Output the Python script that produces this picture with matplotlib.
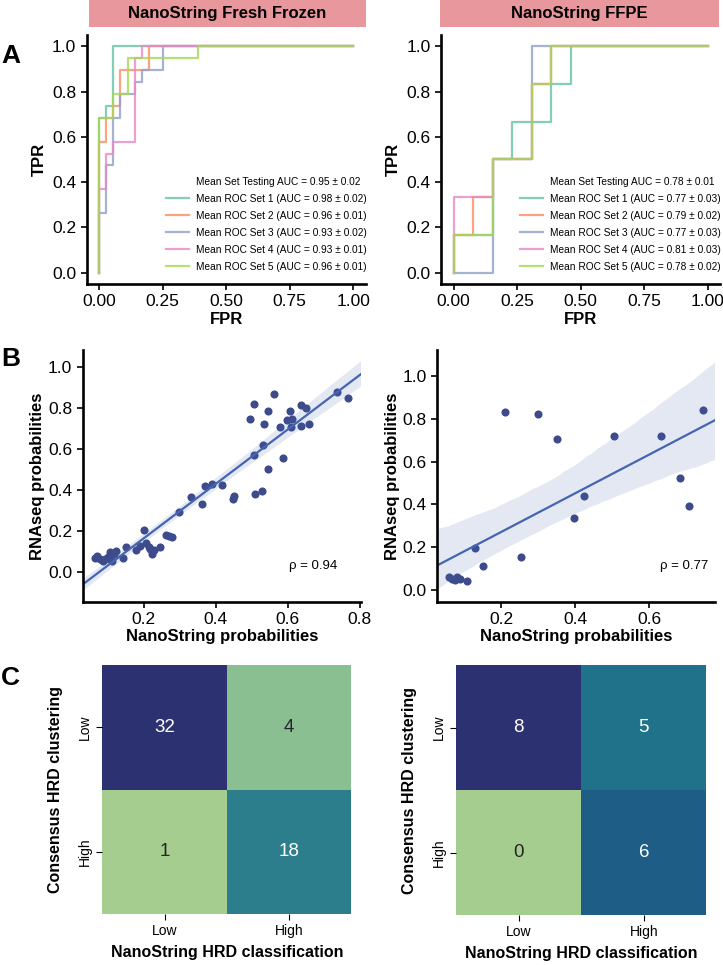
import matplotlib

matplotlib.use("Agg")

import matplotlib.pyplot as plt
import numpy as np
import seaborn as sns
from matplotlib.lines import Line2D

# ---------------------------------------------------------------- data

# ROC vertices, in counts of negatives / positives
FF_NEG, FF_POS = 36, 19
FF_FPR = [
    [0, 0, 1, 1, 2, 2, 36],
    [0, 0, 1, 1, 2, 2, 3, 3, 7, 7, 36],
    [0, 0, 1, 1, 2, 2, 3, 3, 5, 5, 6, 6, 9, 9, 36],
    [0, 0, 1, 1, 2, 2, 5, 5, 6, 6, 36],
    [0, 0, 2, 2, 4, 4, 14, 14, 36],
]
FF_TPR = [
    [0, 13, 13, 14, 14, 19, 19],
    [0, 11, 11, 13, 13, 14, 14, 17, 17, 19, 19],
    [0, 5, 5, 9, 9, 13, 13, 15, 15, 16, 16, 17, 17, 19, 19],
    [0, 7, 7, 10, 10, 11, 11, 18, 18, 19, 19],
    [0, 13, 13, 15, 15, 18, 18, 19, 19],
]
FF_AUC = ["0.98 ± 0.02", "0.96 ± 0.01", "0.93 ± 0.02", "0.93 ± 0.01", "0.96 ± 0.01"]
FF_MEAN_AUC = "0.95 ± 0.02"

FFPE_NEG, FFPE_POS = 13, 6
FFPE_FPR = [
    [0, 0, 2, 2, 3, 3, 5, 5, 6, 6, 13],
    [0, 0, 1, 1, 2, 2, 4, 4, 5, 5, 13],
    [0, 2, 2, 4, 4, 13],
    [0, 0, 2, 2, 4, 4, 5, 5, 13],
    [0, 0, 2, 2, 4, 4, 5, 5, 13],
]
FFPE_TPR = [
    [0, 1, 1, 3, 3, 4, 4, 5, 5, 6, 6],
    [0, 1, 1, 2, 2, 3, 3, 5, 5, 6, 6],
    [0, 0, 3, 3, 6, 6],
    [0, 2, 2, 3, 3, 5, 5, 6, 6],
    [0, 1, 1, 3, 3, 5, 5, 6, 6],
]
FFPE_AUC = ["0.77 ± 0.03", "0.79 ± 0.02", "0.77 ± 0.03", "0.81 ± 0.03", "0.78 ± 0.02"]
FFPE_MEAN_AUC = "0.78 ± 0.01"

# NanoString vs RNAseq probabilities
FF_NANO = [
    0.064, 0.071, 0.078, 0.086, 0.093, 0.101, 0.108, 0.112, 0.117, 0.122,
    0.105, 0.142, 0.150, 0.180, 0.190, 0.202, 0.206, 0.214, 0.219, 0.223,
    0.228, 0.246, 0.262, 0.270, 0.279,
    0.297, 0.332, 0.363, 0.371, 0.389, 0.417, 0.447, 0.450,
    0.496, 0.507, 0.507, 0.509, 0.528, 0.531, 0.535, 0.545, 0.544, 0.563,
    0.577, 0.588, 0.597, 0.605, 0.611, 0.609, 0.636, 0.637, 0.651, 0.659,
    0.736, 0.768,
]
FF_RNA = [
    0.065, 0.078, 0.060, 0.054, 0.060, 0.070, 0.098, 0.050, 0.088, 0.100,
    0.062, 0.065, 0.122, 0.106, 0.125, 0.203, 0.141, 0.120, 0.110, 0.088,
    0.104, 0.120, 0.178, 0.172, 0.168,
    0.293, 0.366, 0.330, 0.416, 0.430, 0.421, 0.356, 0.368,
    0.746, 0.820, 0.569, 0.379, 0.394, 0.618, 0.722, 0.782, 0.501, 0.868,
    0.707, 0.556, 0.740, 0.786, 0.746, 0.706, 0.712, 0.815, 0.797, 0.720,
    0.875, 0.847,
]
FF_RHO = "0.94"

FFPE_NANO = [
    0.059, 0.068, 0.077, 0.081, 0.090, 0.108, 0.129, 0.151, 0.210, 0.255,
    0.299, 0.351, 0.396, 0.425, 0.504, 0.631, 0.683, 0.708, 0.744,
]
FFPE_RNA = [
    0.059, 0.050, 0.047, 0.059, 0.050, 0.042, 0.198, 0.112, 0.833, 0.153,
    0.821, 0.706, 0.338, 0.439, 0.720, 0.717, 0.525, 0.390, 0.841,
]
FFPE_RHO = "0.77"

# confusion matrices: rows = consensus clustering, cols = NanoString
CLASSES = ["Low", "High"]
FF_CM = [[32, 4], [1, 18]]
FFPE_CM = [[8, 5], [0, 6]]

SET_COLOURS = ["#66c2a5", "#fc8d62", "#8da0cb", "#e78ac3", "#a6d854"]
STRIP_COLOUR = "#e8979c"
POINT_COLOUR = "#3d4b8b"
LINE_COLOUR = "#4565b1"

W, H = 723, 965


def fx(px):
    return px / W


def fy(py):
    return 1 - py / H


def style_axes(ax):
    sns.despine(ax=ax)
    for side in ("left", "bottom"):
        ax.spines[side].set_linewidth(1.9)
    ax.tick_params(labelsize=12.5, width=1.2, length=4)


def draw_strip(fig, x0, x1, title):
    sax = fig.add_axes([fx(x0), fy(27), fx(x1 - x0), 27 / H])
    sax.set_facecolor(STRIP_COLOUR)
    sax.set_xticks([])
    sax.set_yticks([])
    for s in sax.spines.values():
        s.set_visible(False)
    sax.text(0.5, 0.5, title, ha="center", va="center",
             fontsize=12, fontweight="bold", transform=sax.transAxes)


def draw_roc(ax, fprs, tprs, n_neg, n_pos, aucs, mean_auc):
    handles = [Line2D([], [], color="none")]
    labels = [f"Mean Set Testing AUC = {mean_auc}"]
    for i, (f, t) in enumerate(zip(fprs, tprs)):
        line, = ax.plot(np.array(f) / n_neg, np.array(t) / n_pos,
                        color=SET_COLOURS[i], lw=1.6, alpha=0.8)
        handles.append(line)
        labels.append(f"Mean ROC Set {i + 1} (AUC = {aucs[i]})")

    ax.set_xlim(-0.05, 1.05)
    ax.set_ylim(-0.05, 1.05)
    ax.set_xticks([0, 0.25, 0.5, 0.75, 1.0])
    ax.set_xticklabels(["0.00", "0.25", "0.50", "0.75", "1.00"])
    ax.set_yticks([0, 0.2, 0.4, 0.6, 0.8, 1.0])
    ax.set_xlabel("FPR", fontsize=12, fontweight="bold", labelpad=2)
    ax.set_ylabel("TPR", fontsize=12, fontweight="bold", labelpad=4)
    style_axes(ax)

    ax.legend(handles, labels, loc="lower left",
              bbox_to_anchor=(0.284, 0.05), borderaxespad=0, borderpad=0,
              frameon=False, fontsize=7.3, handlelength=2.25,
              handletextpad=0.7, labelspacing=0.68)


def draw_scatter(ax, x, y, xlim, ylim, xticks, rho, rho_x):
    ax.set_xlim(*xlim)
    sns.regplot(x=np.array(x), y=np.array(y), ax=ax, seed=0, truncate=False,
                scatter_kws={"s": 34, "color": POINT_COLOUR, "alpha": 1,
                             "linewidths": 0},
                line_kws={"color": LINE_COLOUR, "lw": 1.6})
    ax.set_xlim(*xlim)
    ax.set_ylim(*ylim)
    ax.set_xticks(xticks)
    ax.set_yticks([0, 0.2, 0.4, 0.6, 0.8, 1.0])
    ax.set_xlabel("NanoString probabilities", fontsize=12,
                  fontweight="bold", labelpad=1)
    ax.set_ylabel("RNAseq probabilities", fontsize=12,
                  fontweight="bold", labelpad=2)
    style_axes(ax)
    ax.text(rho_x, 0.14, f"ρ = {rho}", transform=ax.transAxes,
            ha="right", va="center", fontsize=9.5)


def draw_cm(ax, cm):
    sns.heatmap(np.array(cm), ax=ax, cmap="crest", annot=True, fmt="d",
                cbar=False, xticklabels=CLASSES, yticklabels=CLASSES,
                annot_kws={"size": 13.5})
    ax.set_yticklabels(CLASSES, rotation=90, va="center", fontsize=10)
    ax.set_xticklabels(CLASSES, rotation=0, fontsize=10)
    ax.tick_params(length=4, width=0.8)
    ax.set_xlabel("NanoString HRD classification", fontsize=11.5,
                  fontweight="bold", labelpad=5)
    ax.set_ylabel("Consensus HRD clustering", fontsize=11.5,
                  fontweight="bold", labelpad=11)


def main():
    plt.rcParams["font.family"] = ["Liberation Sans", "DejaVu Sans"]

    fig = plt.figure(figsize=(W / 100, H / 100), dpi=100)

    # row A: ROC curves
    ax_a1 = fig.add_axes([fx(86.6), fy(284), fx(279.4), 249 / H])
    ax_a2 = fig.add_axes([fx(441), fy(284), fx(279.4), 249 / H])
    draw_roc(ax_a1, FF_FPR, FF_TPR, FF_NEG, FF_POS, FF_AUC, FF_MEAN_AUC)
    draw_roc(ax_a2, FFPE_FPR, FFPE_TPR, FFPE_NEG, FFPE_POS, FFPE_AUC,
             FFPE_MEAN_AUC)
    draw_strip(fig, 89, 366, "NanoString Fresh Frozen")
    draw_strip(fig, 440, 719, "NanoString FFPE")

    # row B: probability agreement
    ax_b1 = fig.add_axes([fx(82.7), fy(601.7), fx(278.3), 251.7 / H])
    ax_b2 = fig.add_axes([fx(437), fy(601.7), fx(278.3), 251.7 / H])
    draw_scatter(ax_b1, FF_NANO, FF_RNA, (0.031, 0.803), (-0.146, 1.081),
                 [0.2, 0.4, 0.6, 0.8], FF_RHO, 0.914)
    draw_scatter(ax_b2, FFPE_NANO, FFPE_RNA, (0.0275, 0.778), (-0.055, 1.121),
                 [0.2, 0.4, 0.6], FFPE_RHO, 0.976)

    # row C: confusion matrices
    ax_c1 = fig.add_axes([fx(102.3), fy(914), fx(249), 249 / H])
    ax_c2 = fig.add_axes([fx(456.3), fy(915), fx(250), 250 / H])
    draw_cm(ax_c1, FF_CM)
    draw_cm(ax_c2, FFPE_CM)

    # panel letters
    for letter, ypx in (("A", 56), ("B", 359), ("C", 678)):
        fig.text(fx(1), fy(ypx), letter, fontsize=19, fontweight="bold",
                 ha="left", va="center")

    fig.savefig("out.png", dpi=100)
    plt.close(fig)


if __name__ == "__main__":
    main()
